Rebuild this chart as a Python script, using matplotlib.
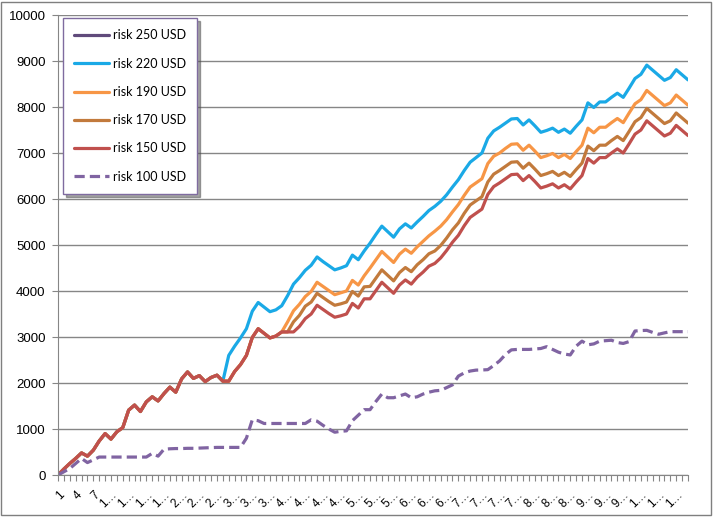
import matplotlib
matplotlib.use("Agg")
import matplotlib.pyplot as plt
from matplotlib.patches import Rectangle

# categories 1..108
categories = list(range(1, 109))

risk_250 = []  # series has no visible line in the chart

risk_220 = [0, 130, 250, 360, 480, 410, 540, 740, 900, 780,
            940, 1030, 1410, 1520, 1380, 1590, 1700, 1610, 1770, 1910,
            1800, 2090, 2240, 2100, 2160, 2030, 2120, 2170, 2040, 2600,
            2800, 2980, 3180, 3560, 3750, 3650, 3550, 3590, 3680, 3900,
            4150, 4290, 4450, 4560, 4740, 4640, 4550, 4460, 4500, 4550,
            4780, 4680, 4870, 5040, 5230, 5410, 5290, 5170, 5350, 5460,
            5370, 5500, 5620, 5750, 5840, 5950, 6090, 6260, 6420, 6620,
            6800, 6900, 7000, 7320, 7480, 7560, 7650, 7740, 7750, 7610,
            7720, 7590, 7450, 7490, 7540, 7450, 7520, 7430, 7580, 7720,
            8090, 7990, 8110, 8110, 8210, 8300, 8210, 8410, 8620, 8710,
            8910, 8800, 8690, 8580, 8640, 8810, 8700, 8590]

risk_190 = [0, 130, 250, 360, 480, 410, 540, 740, 900, 780,
            940, 1030, 1410, 1520, 1380, 1590, 1700, 1610, 1770, 1910,
            1800, 2090, 2240, 2100, 2160, 2030, 2120, 2170, 2040, 2040,
            2250, 2400, 2600, 2990, 3180, 3080, 2980, 3020, 3110, 3330,
            3570, 3710, 3880, 3990, 4190, 4100, 4010, 3920, 3960, 4000,
            4230, 4130, 4330, 4500, 4680, 4860, 4740, 4620, 4800, 4910,
            4820, 4960, 5080, 5200, 5300, 5410, 5550, 5720, 5880, 6080,
            6260, 6350, 6440, 6770, 6930, 7000, 7100, 7190, 7200, 7060,
            7170, 7040, 6900, 6940, 6990, 6900, 6970, 6880, 7030, 7170,
            7540, 7440, 7560, 7560, 7660, 7750, 7660, 7870, 8070, 8160,
            8360, 8250, 8140, 8030, 8090, 8260, 8150, 8040]

risk_170 = [0, 130, 250, 360, 480, 410, 540, 740, 900, 780,
            940, 1030, 1410, 1520, 1380, 1590, 1700, 1610, 1770, 1910,
            1800, 2090, 2240, 2100, 2160, 2030, 2120, 2170, 2040, 2040,
            2250, 2400, 2600, 2990, 3180, 3080, 2980, 3020, 3110, 3110,
            3330, 3470, 3670, 3760, 3950, 3860, 3770, 3690, 3720, 3760,
            3990, 3890, 4090, 4100, 4280, 4460, 4340, 4220, 4400, 4510,
            4420, 4570, 4680, 4810, 4870, 4990, 5150, 5330, 5480, 5690,
            5870, 5960, 6050, 6370, 6540, 6620, 6710, 6800, 6810, 6670,
            6780, 6650, 6510, 6550, 6600, 6510, 6580, 6490, 6640, 6780,
            7150, 7050, 7170, 7170, 7270, 7360, 7270, 7470, 7680, 7770,
            7970, 7860, 7750, 7640, 7700, 7870, 7760, 7650]

risk_150 = [0, 130, 250, 360, 480, 410, 540, 740, 900, 780,
            940, 1030, 1410, 1520, 1380, 1590, 1700, 1610, 1770, 1910,
            1800, 2090, 2240, 2100, 2160, 2030, 2120, 2170, 2040, 2040,
            2250, 2400, 2600, 2990, 3180, 3080, 2980, 3020, 3110, 3110,
            3110, 3230, 3400, 3500, 3690, 3600, 3510, 3430, 3460, 3500,
            3730, 3630, 3830, 3830, 4010, 4190, 4070, 3950, 4130, 4240,
            4150, 4300, 4410, 4540, 4600, 4720, 4880, 5060, 5210, 5420,
            5600, 5690, 5780, 6100, 6270, 6350, 6440, 6530, 6540, 6400,
            6510, 6380, 6240, 6280, 6330, 6240, 6310, 6220, 6370, 6510,
            6880, 6780, 6900, 6900, 7000, 7090, 7000, 7200, 7410, 7500,
            7700, 7590, 7480, 7370, 7430, 7600, 7490, 7380]

risk_100 = [0, 70, 140, 250, 360, 270, 330, 390, 390, 390,
            390, 390, 390, 390, 390, 390, 470, 410, 560, 570,
            575, 575, 580, 580, 585, 590, 595, 600, 600, 600,
            600, 600, 800, 1200, 1180, 1120, 1120, 1120, 1120, 1120,
            1120, 1120, 1120, 1200, 1170, 1080, 1000, 930, 950, 960,
            1180, 1300, 1420, 1420, 1600, 1760, 1680, 1680, 1720, 1760,
            1680, 1700, 1760, 1800, 1830, 1840, 1900, 1960, 2150, 2220,
            2260, 2280, 2283, 2290, 2380, 2480, 2620, 2720, 2730, 2730,
            2730, 2740, 2750, 2790, 2730, 2670, 2630, 2610, 2800, 2910,
            2830, 2850, 2910, 2920, 2930, 2880, 2860, 2900, 3130, 3140,
            3145, 3100, 3060, 3090, 3116, 3116, 3116, 3116]

series = [
    ("risk 250 USD", risk_250, "#604A7B", "-"),
    ("risk 220 USD", risk_220, "#1AA9E6", "-"),
    ("risk 190 USD", risk_190, "#F79646", "-"),
    ("risk 170 USD", risk_170, "#C27A3C", "-"),
    ("risk 150 USD", risk_150, "#C0504D", "-"),
    ("risk 100 USD", risk_100, "#8064A2", "--"),
]

GRID = "#868686"

fig = plt.figure(figsize=(7.13, 5.17), dpi=100)
ax = fig.add_axes([58 / 713, 42 / 517, 630 / 713, 460 / 517])

x = list(range(len(categories)))
for name, vals, col, ls in series:
    xs = x[:len(vals)]
    line, = ax.plot(xs, vals, color=col, lw=2.3, ls=ls, label=name,
                    solid_joinstyle="round", solid_capstyle="round")
    if ls == "--":
        line.set_dashes((3.2, 1.6))

ax.set_xlim(0, len(categories) - 1)
ax.set_ylim(0, 10000)
ax.set_yticks(range(0, 10001, 1000))
ax.yaxis.grid(True, color=GRID, lw=1)
ax.set_axisbelow(True)

ax.set_xticks(x)
xlabels = []
for i, c in enumerate(categories):
    if i % 3 == 0:
        s = str(c)
        xlabels.append(s if len(s) == 1 else s[0] + "…")
    else:
        xlabels.append("")
ax.set_xticklabels(xlabels, rotation=45, ha="right", rotation_mode="anchor",
                   fontsize=8.5, family="Liberation Sans")
ax.tick_params(axis="x", length=4, color=GRID, pad=6)
ax.tick_params(axis="y", length=4, color=GRID, labelsize=9.5, pad=5)
for t in ax.get_yticklabels():
    t.set_family("Liberation Sans")

for s in ["top", "right"]:
    ax.spines[s].set_visible(False)
for s in ["left", "bottom"]:
    ax.spines[s].set_color(GRID)

leg = ax.legend(loc="upper left", bbox_to_anchor=(0.008, 0.993),
                borderaxespad=0, fontsize=9, frameon=True, fancybox=False,
                shadow=True, labelspacing=1.3, handlelength=2.8,
                handletextpad=0.3, borderpad=0.9,
                prop={"family": "Lato", "size": 9})
leg.get_frame().set_edgecolor("#7F6B9F")
leg.get_frame().set_linewidth(1)

# chart area border
fig.patches.append(Rectangle((0.002, 0.004), 0.995, 0.993, transform=fig.transFigure,
                             fill=False, edgecolor="#7f7f7f", lw=1))

plt.savefig("out.png", dpi=100)
plt.close()
